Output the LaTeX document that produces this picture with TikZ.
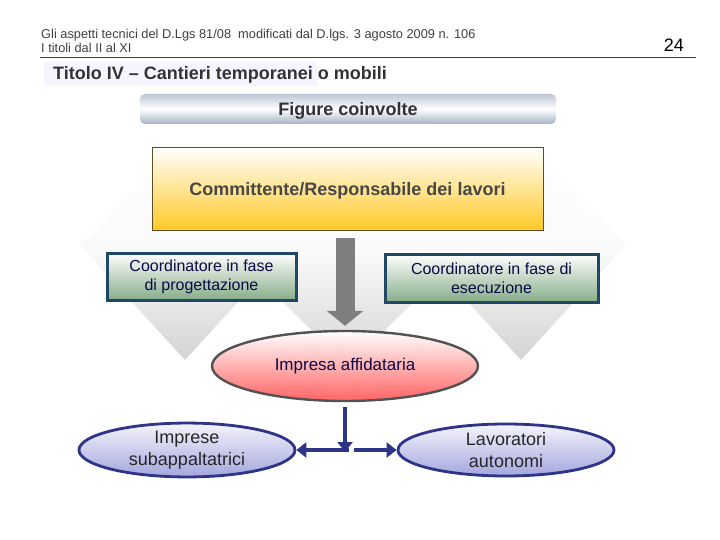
\documentclass[tikz,border=0pt]{standalone}
\usepackage{fontspec}
\setmainfont{Liberation Sans}
\usetikzlibrary{arrows.meta,positioning,shapes.geometric}
\definecolor{hdrgray}{HTML}{404040}
\definecolor{titlegray}{HTML}{333333}
\definecolor{bannerblue}{HTML}{A6B3C6}
\definecolor{goldfill}{HTML}{FFC926}
\definecolor{goldborder}{HTML}{5E4C22}
\definecolor{slateborder}{HTML}{1F4866}
\definecolor{sage}{HTML}{86AD88}
\definecolor{navytext}{HTML}{0A0A46}
\definecolor{rosefill}{HTML}{FF6464}
\definecolor{lavender}{HTML}{A4A6DE}
\definecolor{navyline}{HTML}{2E3488}
\definecolor{arrowgray}{HTML}{7F7F7F}

\begin{document}
\begin{tikzpicture}[
  x=1pt, y=-1pt,
  chevron/.style = {top color=white, bottom color=black!17, middle color=black!2, draw=none},
  banner/.style = {
    rectangle, rounded corners=5pt, draw=none,
    top color=bannerblue!75, bottom color=bannerblue, middle color=white,
    minimum width=416pt, minimum height=30pt, text depth=0pt,
    font=\fontsize{18}{21}\selectfont\bfseries, text=titlegray
  },
  commbox/.style = {
    rectangle, draw=goldborder, line width=0.9pt,
    top color=white, bottom color=goldfill,
    minimum width=391pt, minimum height=83pt, text depth=0pt,
    font=\fontsize{18}{21}\selectfont\bfseries, text=black!72
  },
  coordbox/.style = {
    rectangle, draw=slateborder, line width=3pt,
    top color=white, bottom color=sage,
    align=center, inner sep=2pt,
    font=\fontsize{16}{19}\selectfont, text=navytext
  },
  affbox/.style = {
    ellipse, draw=black!68, line width=2.4pt,
    top color=white, bottom color=rosefill,
    minimum width=266pt, minimum height=70pt, inner sep=0pt,
    font=\fontsize{17}{20}\selectfont, text=navytext
  },
  subbox/.style = {
    ellipse, draw=navyline, line width=2.8pt,
    top color=lavender!12, bottom color=lavender,
    minimum width=216pt, minimum height=52pt, inner sep=0pt,
    align=center, font=\fontsize{18}{22}\selectfont, text=black!85
  },
  blockarrow/.style = {
    arrowgray, line width=19pt,
    -{Triangle[length=15pt, width=36pt]}
  },
  navyarrow/.style = {
    navyline, line width=3.5pt,
    -{Triangle[length=10pt, width=15pt]}
  },
]
\useasboundingbox (0,0) rectangle (720,540);
\fill[white] (0,0) rectangle (720,540);

%% ---- Faint background shapes ----
\path[chevron] (185,140) -- (290,245) -- (185,360) -- (80,245) -- cycle;
\path[chevron] (348,367) -- (433,282) -- (433,135) -- (348,220) -- (263,135) -- (263,282) -- cycle;
\path[chevron] (521,140) -- (626,245) -- (521,360) -- (416,245) -- cycle;

%% ---- Header ----
\node[anchor=base west, inner sep=0pt, font=\fontsize{12.8}{14}\selectfont, text=hdrgray] (hdrA) at (41,39)
  {Gli aspetti tecnici del D.Lgs 81/08\ \ modificati dal D.lgs. 3 agosto 2009 n. 106};
\node[anchor=base west, inner sep=0pt, font=\fontsize{12.8}{14}\selectfont, text=hdrgray] (hdrB) at (41,53)
  {I titoli dal II al XI};
\node[anchor=base east, inner sep=0pt, font=\fontsize{18}{21}\selectfont] (pagenum) at (684,52) {24};
\draw[hdrgray, line width=1pt] (40,58) -- (696,58);

\fill[blue!4] (44,62) rectangle (317,86);
\node[anchor=base west, inner sep=0pt, font=\fontsize{18}{21}\selectfont\bfseries, text=titlegray] (title) at (53,80)
  {Titolo IV -- Cantieri temporanei o mobili};

%% ---- Main boxes ----
\node[banner] (figure) at (348,109) {Figure coinvolte};
\node[commbox] (comm) at (347.5,188.5) {Committente/Responsabile dei lavori};

\node[coordbox, minimum width=189pt, minimum height=47pt] (cprog) at (201.5,276.5)
  {Coordinatore in fase\\di progettazione};
\node[coordbox, minimum width=213pt, minimum height=48pt] (cesec) at (491.5,278)
  {Coordinatore in fase di\\esecuzione};

\node[affbox] (affid) at (345,366) {Impresa affidataria};

\node[subbox] (subapp) at (187,450) {Imprese\\subappaltatrici};
\node[subbox] (auton) at (506,450) {Lavoratori\\autonomi};

%% ---- Arrows ----
\draw[blockarrow, shorten <=8pt, shorten >=4pt] (comm.south -| affid.north) -- (affid.north);

\coordinate (fork) at (affid.south |- subapp.east);
\draw[navyarrow, shorten <=5pt, shorten >=-2pt] (affid.south) -- (fork);
\draw[navyarrow] ([xshift=4pt]fork) -- (subapp.east);
\draw[navyarrow] ([xshift=9pt]fork) -- (auton.west);

\end{tikzpicture}
\end{document}
